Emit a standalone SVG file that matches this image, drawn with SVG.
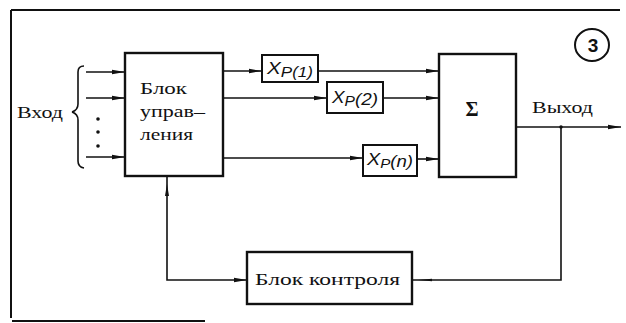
<svg xmlns="http://www.w3.org/2000/svg" width="626" height="323" viewBox="0 0 626 323">
<style>
.box{fill:#fff;stroke:#111;stroke-width:2.4}
.small{fill:#fff;stroke:#111;stroke-width:2}
.ln{fill:none;stroke:#111;stroke-width:1.6}
.frame{fill:none;stroke:#111;stroke-width:2}
.t{font-family:"Liberation Serif","DejaVu Serif",serif;font-size:17px;fill:#111}
.x{font-family:"Liberation Sans","DejaVu Sans",sans-serif;font-style:italic;font-size:17px;fill:#111}
</style>
<defs>
<marker id="ar" markerUnits="userSpaceOnUse" markerWidth="14" markerHeight="6" refX="13" refY="3" orient="auto">
<path d="M0,0.8 L13,3 L0,5.2 z" fill="#111"/>
</marker>
</defs>
<rect width="626" height="323" fill="#fff"/>
<g id="frame">
<path class="frame" d="M11,10 H620 M11,10 V318 M12,321 H205"/>
</g>
<g id="connectors">
<path class="ln" d="M72,112 Q78,110 78,104 V72 Q78,66 84,66 M72,112 Q78,114 78,120 V161 Q78,167 84,168"/>
<path class="ln" d="M86,72 H125" marker-end="url(#ar)"/>
<path class="ln" d="M86,98 H125" marker-end="url(#ar)"/>
<path class="ln" d="M86,157 H125" marker-end="url(#ar)"/>
<circle cx="98" cy="119" r="1.8" fill="#111"/>
<circle cx="98" cy="132" r="1.8" fill="#111"/>
<circle cx="98" cy="146" r="1.8" fill="#111"/>
<path class="ln" d="M223,71 H262" marker-end="url(#ar)"/>
<path class="ln" d="M318,71 H439" marker-end="url(#ar)"/>
<path class="ln" d="M223,98 H327" marker-end="url(#ar)"/>
<path class="ln" d="M383,98 H439" marker-end="url(#ar)"/>
<path class="ln" d="M223,158 H363" marker-end="url(#ar)"/>
<path class="ln" d="M417,159 H439" marker-end="url(#ar)"/>
<path class="ln" d="M516,127 H621" marker-end="url(#ar)"/>
<circle cx="561" cy="127" r="1.8" fill="#111"/>
<path class="ln" d="M561,127 V280 H412"/>
<path class="ln" d="M167,176 V280 H247" marker-end="url(#ar)"/>
<path d="M165,196 L167,184 L169,196 z" fill="#111"/>
<path d="M432,278.8 L418,280 L432,281.2 z" fill="#111"/>
</g>
<g id="input-label">
<text class="t" x="17" y="118" textLength="46" lengthAdjust="spacingAndGlyphs">Вход</text>
</g>
<g id="control-unit">
<rect class="box" x="125" y="53" width="98" height="123"/>
<text class="t" x="140" y="94" textLength="47" lengthAdjust="spacingAndGlyphs">Блок</text>
<text class="t" x="140" y="117" textLength="65" lengthAdjust="spacingAndGlyphs">управ–</text>
<text class="t" x="140" y="140" textLength="53" lengthAdjust="spacingAndGlyphs">ления</text>
</g>
<g id="xp1">
<rect class="small" x="262" y="55" width="56" height="27"/>
<text class="x" x="267" y="74" textLength="46" lengthAdjust="spacingAndGlyphs">X<tspan dy="3" font-size="14">P(1)</tspan></text>
</g>
<g id="xp2">
<rect class="small" x="327" y="82" width="56" height="31"/>
<text class="x" x="332" y="103" textLength="46" lengthAdjust="spacingAndGlyphs">X<tspan dy="3" font-size="14">P</tspan><tspan dy="-1" font-size="17">(2)</tspan></text>
</g>
<g id="xpn">
<rect class="small" x="363" y="145" width="54" height="31"/>
<text class="x" x="367" y="165" textLength="46" lengthAdjust="spacingAndGlyphs">X<tspan dy="3" font-size="13">P</tspan><tspan dy="-1" font-size="16">(n)</tspan></text>
</g>
<g id="sum">
<rect class="box" x="439" y="54" width="77" height="123"/>
<text x="472" y="116" text-anchor="middle" font-family="Liberation Serif, serif" font-weight="bold" font-size="20" fill="#111">Σ</text>
</g>
<g id="output-label">
<text class="t" x="532" y="113" textLength="61" lengthAdjust="spacingAndGlyphs">Выход</text>
</g>
<g id="monitor-unit">
<rect class="box" x="247" y="252" width="165" height="52"/>
<text class="t" x="255" y="285" textLength="145" lengthAdjust="spacingAndGlyphs">Блок  контроля</text>
</g>
<g id="figure-number">
<ellipse cx="592" cy="45" rx="17" ry="16" fill="none" stroke="#111" stroke-width="2"/>
<text x="593" y="52" text-anchor="middle" font-family="Liberation Sans, sans-serif" font-weight="bold" font-size="19" fill="#111">3</text>
</g>
</svg>
